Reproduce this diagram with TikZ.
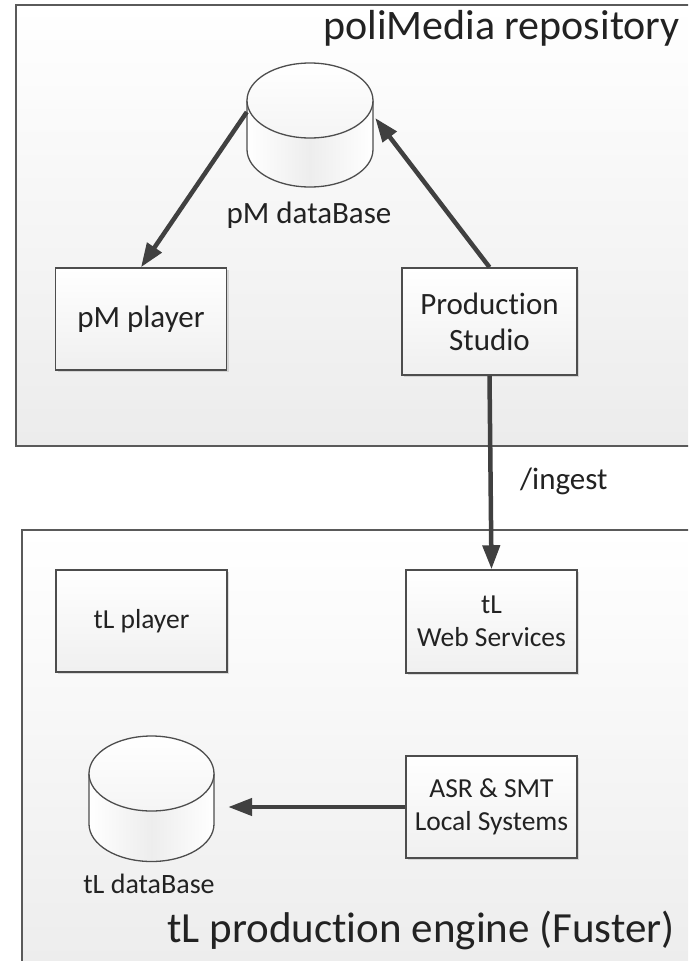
\documentclass[tikz,border=0pt]{standalone}
\usepackage{graphicx}
\usepackage{fontspec}
\setmainfont{Carlito}[Ligatures=NoCommon]
\usetikzlibrary{arrows.meta,shadows,calc}
\definecolor{linec}{HTML}{404040}
\definecolor{bordc}{HTML}{4D4D4D}
\definecolor{contc}{HTML}{5A5A5A}
\definecolor{textc}{HTML}{222222}
\begin{document}
\begin{tikzpicture}[x=1pt,y=-1pt,
  container/.style={draw=contc, line width=1.5pt, top color=white, bottom color=gray!15},
  boxnode/.style={draw=bordc, line width=1.5pt, top color=white, bottom color=gray!12,
    inner sep=0pt, align=center, text=textc, font=\fontsize{31}{36}\selectfont,
    drop shadow={opacity=0.25, shadow xshift=2pt, shadow yshift=-2pt}},
  botbox/.style={font=\fontsize{27.5}{33}\selectfont},
  lbl/.style={inner sep=0pt, text=textc},
  dbspace/.style={inner sep=0pt, draw=none},
  cylline/.style={draw=bordc, line width=1.3pt},
  arr/.style={draw=linec, line width=4.5pt, -{Triangle[length=24pt,width=17pt]}}]
\useasboundingbox (0,0) rectangle (688,961);
\clip (0,0) rectangle (688,961);
\fill[white] (0,0) rectangle (688,961);
% containers
\path[container] (16,5) rectangle (710,446);
\path[container] (22,530) rectangle (710,990);
% titles
\node[lbl, anchor=base east, font=\fontsize{42}{48}\selectfont] (toptitle) at (680,39) {poliMedia repository};
\node[lbl, anchor=base east, font=\fontsize{43}{50}\selectfont] (bottitle) at (675,942) {tL production engine (Fuster)};
% pM dataBase cylinder
\node[dbspace, minimum width=126pt, minimum height=124pt] (pmdb) at (310,125) {};
\shade[left color=white, right color=white, middle color=gray!14]
  (247,100.5) -- (247,149.5) arc[start angle=180, end angle=360, x radius=63pt, y radius=37.5pt] -- (373,100.5) -- cycle;
\draw[cylline] (247,100.5) -- (247,149.5) arc[start angle=180, end angle=360, x radius=63pt, y radius=37.5pt] -- (373,100.5);
\draw[cylline, top color=white, bottom color=gray!8] (310,100.5) ellipse[x radius=63pt, y radius=37.5pt];
\node[lbl, anchor=base, font=\fontsize{31}{36}\selectfont] (pmdblabel) at (309,223) {pM dataBase};
% tL dataBase cylinder
\node[dbspace, minimum width=125pt, minimum height=126pt] (tldb) at (151.5,799) {};
\shade[left color=white, right color=white, middle color=gray!14]
  (89,773.5) -- (89,824) arc[start angle=180, end angle=360, x radius=62.5pt, y radius=37.5pt] -- (214,773.5) -- cycle;
\draw[cylline] (89,773.5) -- (89,824) arc[start angle=180, end angle=360, x radius=62.5pt, y radius=37.5pt] -- (214,773.5);
\draw[cylline, top color=white, bottom color=gray!8] (151.5,773.5) ellipse[x radius=62.5pt, y radius=37.5pt];
\node[lbl, anchor=base, font=\fontsize{28}{33}\selectfont] (tldblabel) at (149,893) {tL dataBase};
% boxes
\node[boxnode, minimum width=171pt, minimum height=102pt] (pmplayer) at (141,319) {pM player};
\node[boxnode, minimum width=175pt, minimum height=107pt] (prod) at (489.5,321.5) {Production\\Studio};
\node[boxnode, botbox, minimum width=171pt, minimum height=102pt] (tlplayer) at (141.5,621) {tL player};
\node[boxnode, botbox, minimum width=171pt, minimum height=103pt] (web) at (491.5,621.5) {tL\\Web Services};
\node[boxnode, botbox, minimum width=171pt, minimum height=102pt] (asr) at (491.5,807) {ASR \& SMT\\Local Systems};
% connectors
\draw[arr] ($(pmdb.west)+(0,-13)$) -- (pmplayer.north);
\draw[arr] (prod.north) -- ($(pmdb.east)+(2,-7)$);
\draw[arr] (prod.south) -- (web.north);
\draw[arr, shorten >=14pt] (asr.west) -- (asr.west -| tldb.east);
\node[lbl, anchor=base west, font=\fontsize{31}{36}\selectfont] (ingest) at (520,489) {/ingest};
\end{tikzpicture}
\end{document}
